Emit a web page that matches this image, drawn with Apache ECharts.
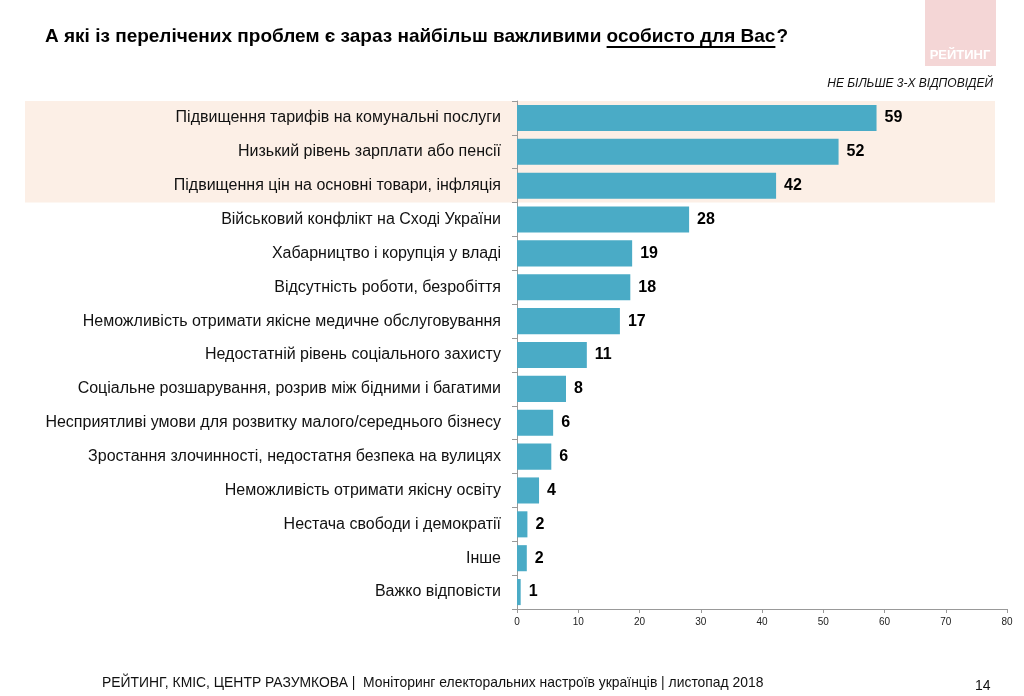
<!DOCTYPE html>
<html><head><meta charset="utf-8">
<script src="https://cdn.jsdelivr.net/npm/echarts@6/dist/echarts.min.js"></script>
<style>html,body{margin:0;padding:0;background:#fff}#c{width:1024px;height:696px}</style>
</head><body><div id="c"></div>
<script>
const categories = [
  'Підвищення тарифів на комунальні послуги',
  'Низький рівень зарплати або пенсії',
  'Підвищення цін на основні товари, інфляція',
  'Військовий конфлікт на Сході України',
  'Хабарництво і корупція у владі',
  'Відсутність роботи, безробіття',
  'Неможливість отримати якісне медичне обслуговування',
  'Недостатній рівень соціального захисту',
  'Соціальне розшарування, розрив між бідними і багатими',
  'Несприятливі умови для розвитку малого/середнього бізнесу',
  'Зростання злочинності, недостатня безпека на вулицях',
  'Неможливість отримати якісну освіту',
  'Нестача свободи і демократії',
  'Інше',
  'Важко відповісти'
];
const values = [58.7, 52.5, 42.3, 28.1, 18.8, 18.5, 16.8, 11.4, 8.0, 5.9, 5.6, 3.6, 1.7, 1.6, 0.6];
const valueLabels = ['59','52','42','28','19','18','17','11','8','6','6','4','2','2','1'];
const xTicks = [0, 10, 20, 30, 40, 50, 60, 70, 80];

const titlePart1 = 'А які із перелічених проблем є зараз найбільш важливими ';
const titlePart2 = 'особисто для Вас';
const titlePart3 = '?';
const titleFont = 'bold 19px "Liberation Sans", Arial, sans-serif';

const cv = document.createElement('canvas').getContext('2d');
cv.font = titleFont;
const w1 = cv.measureText(titlePart1).width;
const w2 = cv.measureText(titlePart2).width;
const tx = 45, ty = 37;

const chart = echarts.init(document.getElementById('c'));
const option = {
  backgroundColor: '#fff',
  animation: false,
  grid: { left: 517, right: 17, top: 101, height: 508 },
  xAxis: {
    type: 'value', min: 0, max: 80, interval: 10,
    axisLine: { show: true, lineStyle: { color: '#999' } },
    axisTick: { show: true, length: 4, lineStyle: { color: '#999' } },
    splitLine: { show: false },
    axisLabel: { color: '#222', fontSize: 10, margin: 8, fontFamily: 'Liberation Sans, Arial',
      formatter: v => xTicks.includes(v) ? String(v) : '' }
  },
  yAxis: {
    type: 'category', inverse: true, data: categories,
    axisLine: { show: true, lineStyle: { color: '#999' } },
    axisTick: { show: true, length: 5, lineStyle: { color: '#999' } },
    axisLabel: { color: '#111', fontSize: 16, margin: 16, fontFamily: 'Liberation Sans, Arial' }
  },
  series: [{
    type: 'bar', data: values, barCategoryGap: '23%', z: 3,
    itemStyle: { color: '#4aabc6' },
    label: { show: true, position: 'right', distance: 8, color: '#000', fontWeight: 'bold',
      fontSize: 16, fontFamily: 'Liberation Sans, Arial',
      formatter: p => valueLabels[p.dataIndex] }
  }],
  graphic: [
    { type: 'text', x: tx, y: ty, style: { text: titlePart1, font: titleFont, fill: '#000', verticalAlign: 'middle' } },
    { type: 'text', x: tx + w1, y: ty, style: { text: titlePart2, font: titleFont, fill: '#000', verticalAlign: 'middle' } },
    { type: 'line', shape: { x1: tx + w1, y1: ty + 10, x2: tx + w1 + w2, y2: ty + 10 }, style: { stroke: '#000', lineWidth: 2 } },
    { type: 'text', x: tx + w1 + w2 + 1, y: ty, style: { text: titlePart3, font: titleFont, fill: '#000', verticalAlign: 'middle' } },
    { type: 'rect', shape: { x: 925, y: 0, width: 71, height: 66 }, style: { fill: '#f4d6d6' } },
    { type: 'text', x: 960, y: 55, style: { text: 'РЕЙТИНГ', fill: '#fff', font: 'bold 13px "Liberation Sans", Arial', align: 'center', verticalAlign: 'middle' } },
    { type: 'text', x: 993, y: 84, style: { text: 'НЕ БІЛЬШЕ 3-Х ВІДПОВІДЕЙ', fill: '#111', font: 'italic 12px "Liberation Sans", Arial', align: 'right', verticalAlign: 'middle' } },
    { type: 'text', x: 102, y: 683, style: { text: 'РЕЙТИНГ, КМІС, ЦЕНТР РАЗУМКОВА |  Моніторинг електоральних настроїв українців | листопад 2018', fill: '#111', font: '13.9px "Liberation Sans", Arial', verticalAlign: 'middle' } },
    { type: 'text', x: 975, y: 686, style: { text: '14', fill: '#111', font: '14px "Liberation Sans", Arial', verticalAlign: 'middle' } }
  ]
};
chart.setOption(option);
const c0 = chart.convertToPixel({ yAxisIndex: 0 }, categories[0]);
const c2 = chart.convertToPixel({ yAxisIndex: 0 }, categories[2]);
const band = (c2 - c0) / 2;
chart.setOption({ graphic: option.graphic.concat([
  { type: 'rect', z: -10, silent: true, shape: { x: 25, y: c0 - band / 2, width: 970, height: (c2 - c0) + band }, style: { fill: '#fcefe6' } }
]) });
</script></body></html>
